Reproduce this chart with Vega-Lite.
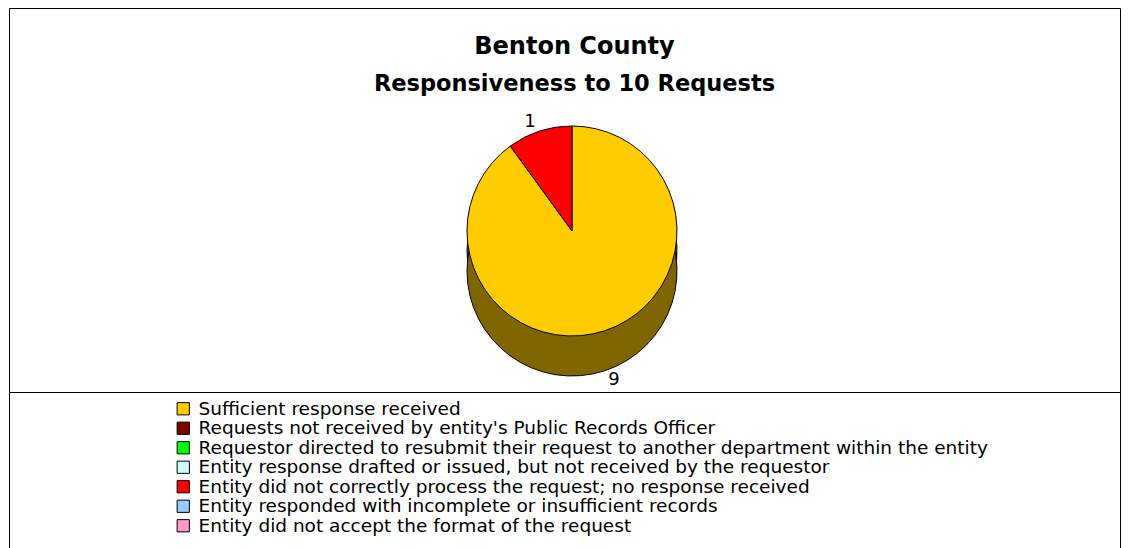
{
  "$schema": "https://vega.github.io/schema/vega-lite/v6.json",
  "padding": {"left": 8, "top": 7, "right": 10, "bottom": 0},
  "autosize": {"type": "pad"},
  "background": "white",
  "bounds": "flush",
  "config": {
    "view": {"stroke": "black", "strokeWidth": 1},
    "style": {"view": {"stroke": "black", "strokeWidth": 1}},
    "font": "DejaVu Sans"
  },
  "datasets": {
    "resp": [
      {"category": "Sufficient response received", "value": 9},
      {"category": "Requests not received by entity's Public Records Officer", "value": 0},
      {"category": "Requestor directed to resubmit their request to another department within the entity", "value": 0},
      {"category": "Entity response drafted or issued, but not received by the requestor", "value": 0},
      {"category": "Entity did not correctly process the request; no response received", "value": 1},
      {"category": "Entity responded with incomplete or insufficient records", "value": 0},
      {"category": "Entity did not accept the format of the request", "value": 0}
    ]
  },
  "spacing": 0,
  "vconcat": [
    {
      "width": 1111,
      "height": 384,
      "view": {"stroke": "black", "strokeWidth": 1},
      "title": {
        "text": "Benton County",
        "subtitle": "Responsiveness to 10 Requests",
        "anchor": "middle",
        "dx": 10,
        "offset": -87,
        "font": "DejaVu Sans",
        "fontSize": 24,
        "fontWeight": "bold",
        "color": "black",
        "subtitleFont": "DejaVu Sans",
        "subtitleFontSize": 22.5,
        "subtitleFontWeight": "bold",
        "subtitleColor": "black",
        "subtitlePadding": 14
      },
      "data": {"name": "resp"},
      "transform": [{"filter": "datum.value > 0"}],
      "layer": [
        {
          "mark": {"type": "arc", "outerRadius": 105, "fill": "#806600", "stroke": "black", "strokeWidth": 1, "xOffset": 7.5, "yOffset": 51},
          "encoding": {
            "theta": {"field": "value", "type": "quantitative", "stack": true},
            "order": {"field": "value", "sort": "descending"}
          }
        },
        {
          "mark": {"type": "arc", "outerRadius": 105, "fill": "#806600", "stroke": "black", "strokeWidth": 1, "xOffset": 7.5, "yOffset": 71},
          "encoding": {
            "theta": {"field": "value", "type": "quantitative", "stack": true},
            "order": {"field": "value", "sort": "descending"}
          }
        },
        {
          "mark": {"type": "arc", "outerRadius": 105, "stroke": "black", "strokeWidth": 1, "xOffset": 7.5, "yOffset": 31},
          "encoding": {
            "theta": {"field": "value", "type": "quantitative", "stack": true},
            "order": {"field": "value", "sort": "descending"},
            "color": {
              "field": "category",
              "type": "nominal",
              "scale": {
                "domain": [
                  "Sufficient response received",
                  "Requests not received by entity's Public Records Officer",
                  "Requestor directed to resubmit their request to another department within the entity",
                  "Entity response drafted or issued, but not received by the requestor",
                  "Entity did not correctly process the request; no response received",
                  "Entity responded with incomplete or insufficient records",
                  "Entity did not accept the format of the request"
                ],
                "range": ["#FFCC00", "#800000", "#00FF00", "#CCFFFF", "#FF0000", "#99CCFF", "#FF99CC"]
              },
              "legend": {
                "orient": "none",
                "legendX": 165,
                "legendY": 391.5,
                "title": null,
                "padding": 0,
                "symbolType": "square",
                "symbolSize": 150,
                "symbolStrokeColor": "black",
                "symbolStrokeWidth": 1,
                "symbolOpacity": 1,
                "labelFont": "DejaVu Sans",
                "labelFontSize": 18.5,
                "labelColor": "black",
                "labelOffset": 6,
                "labelLimit": 0,
                "rowPadding": 0.5
              }
            }
          }
        },
        {
          "mark": {"type": "text", "radius": 136, "fontSize": 18, "font": "DejaVu Sans", "color": "black", "xOffset": 7.5, "yOffset": 51},
          "encoding": {
            "theta": {"field": "value", "type": "quantitative", "stack": true},
            "order": {"field": "value", "sort": "descending"},
            "text": {"field": "value", "type": "quantitative"}
          }
        }
      ]
    },
    {
      "width": 1111,
      "height": 170,
      "view": {"stroke": "black", "strokeWidth": 1},
      "data": {"values": []},
      "mark": {"type": "point", "opacity": 0}
    }
  ]
}
